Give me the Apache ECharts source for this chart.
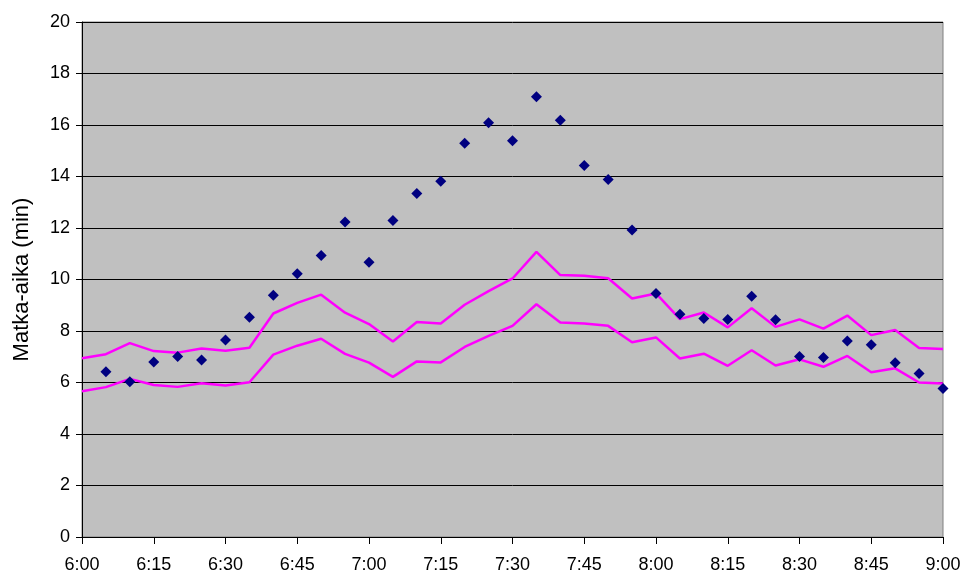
<!DOCTYPE html>
<html>
<head>
<meta charset="utf-8">
<script src="https://cdn.jsdelivr.net/npm/echarts@6/dist/echarts.min.js"></script>
<style>
  html, body { margin: 0; padding: 0; background: #fff; }
  #chart { width: 966px; height: 578px; }
</style>
</head>
<body>
<div id="chart"></div>
<script>
// time of day, every 5 minutes
const times = ['6:00','6:05','6:10','6:15','6:20','6:25','6:30','6:35','6:40','6:45','6:50','6:55',
               '7:00','7:05','7:10','7:15','7:20','7:25','7:30','7:35','7:40','7:45','7:50','7:55',
               '8:00','8:05','8:10','8:15','8:20','8:25','8:30','8:35','8:40','8:45','8:50','8:55','9:00'];
// measured travel times (min), no sample at 6:00
const measured = [null, 6.42, 6.03, 6.80, 7.01, 6.87, 7.65, 8.53, 9.39, 10.22, 10.93, 12.23,
                  10.67, 12.29, 13.34, 13.82, 15.29, 16.09, 15.39, 17.10, 16.18, 14.43, 13.88, 11.92,
                  9.46, 8.65, 8.49, 8.45, 9.35, 8.44, 7.01, 6.97, 7.61, 7.47, 6.77, 6.35, 5.77];
// upper bound line
const upper = [6.94, 7.10, 7.53, 7.22, 7.16, 7.32, 7.23, 7.35, 8.68, 9.09, 9.41, 8.71,
               8.27, 7.59, 8.35, 8.29, 9.02, 9.55, 10.04, 11.07, 10.17, 10.15, 10.05, 9.26,
               9.46, 8.46, 8.72, 8.14, 8.88, 8.16, 8.45, 8.09, 8.60, 7.84, 8.04, 7.34, 7.30];
// lower bound line
const lower = [5.66, 5.82, 6.14, 5.90, 5.83, 5.97, 5.88, 6.01, 7.08, 7.43, 7.70, 7.11,
               6.77, 6.22, 6.82, 6.78, 7.38, 7.81, 8.20, 9.04, 8.33, 8.29, 8.20, 7.56,
               7.75, 6.93, 7.12, 6.65, 7.25, 6.66, 6.90, 6.61, 7.03, 6.40, 6.55, 6.00, 5.96];

function toMin(t) {
  let p = t.split(':');
  return (parseInt(p[0]) - 6) * 60 + parseInt(p[1]);
}
function fmt(v) {
  let h = 6 + Math.floor(v / 60);
  let m = v % 60;
  return h + ':' + (m < 10 ? '0' + m : m);
}
function pairs(arr) {
  let out = [];
  for (let i = 0; i < times.length; i++) {
    if (arr[i] !== null) out.push([toMin(times[i]), arr[i]]);
  }
  return out;
}

const font = 'Arial, "Liberation Sans", sans-serif';
let chart = echarts.init(document.getElementById('chart'));
let option = {
  animation: false,
  backgroundColor: '#ffffff',
  grid: {
    left: 82, right: 23, top: 22, bottom: 41,
    show: true,
    backgroundColor: '#c0c0c0',
    borderColor: '#808080',
    borderWidth: 1
  },
  xAxis: {
    type: 'value',
    min: 0, max: 180, interval: 15,
    axisLine: { lineStyle: { color: '#000', width: 1 } },
    axisTick: { show: true, length: 7, lineStyle: { color: '#000', width: 1 } },
    splitLine: { show: false },
    axisLabel: {
      color: '#000', fontSize: 18, fontFamily: font, margin: 19,
      formatter: fmt
    }
  },
  yAxis: {
    type: 'value',
    min: 0, max: 20, interval: 2,
    name: 'Matka-aika (min)',
    nameLocation: 'middle',
    nameGap: 49,
    nameTextStyle: { color: '#000', fontSize: 22, fontFamily: font },
    axisLine: { show: true, lineStyle: { color: '#000', width: 1 } },
    axisTick: { show: true, length: 6, lineStyle: { color: '#000' } },
    splitLine: { show: true, lineStyle: { color: '#000', width: 1 } },
    axisLabel: { color: '#000', fontSize: 18, fontFamily: font, margin: 12 }
  },
  series: [
    {
      name: 'upper',
      type: 'line',
      data: pairs(upper),
      showSymbol: false,
      lineStyle: { color: '#ff00ff', width: 2.5 },
      itemStyle: { color: '#ff00ff' }
    },
    {
      name: 'lower',
      type: 'line',
      data: pairs(lower),
      showSymbol: false,
      lineStyle: { color: '#ff00ff', width: 2.5 },
      itemStyle: { color: '#ff00ff' }
    },
    {
      name: 'measured',
      type: 'scatter',
      data: pairs(measured),
      symbol: 'diamond',
      symbolSize: 11,
      itemStyle: { color: '#000080', opacity: 1 },
      z: 5
    }
  ]
};
chart.setOption(option);
</script>
</body>
</html>
